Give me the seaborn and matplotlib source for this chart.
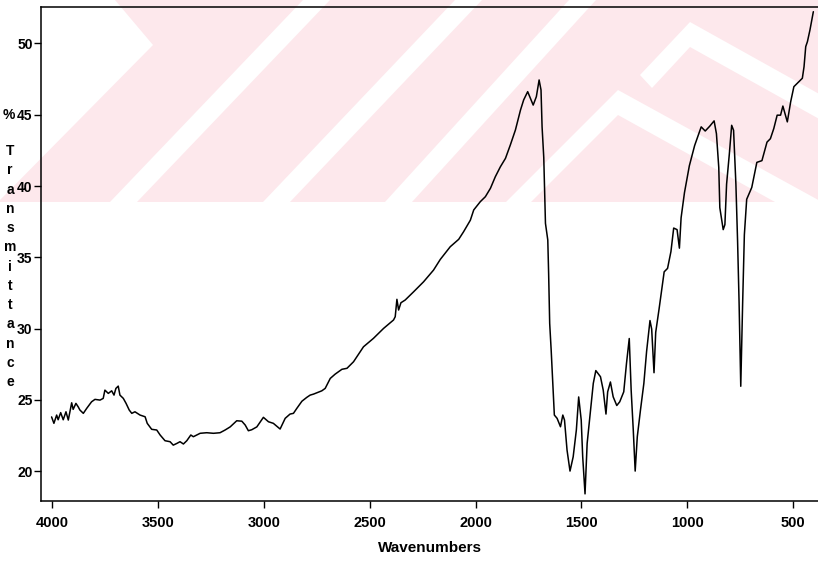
import numpy as np
import pandas as pd
import matplotlib
matplotlib.use("Agg")
import matplotlib.pyplot as plt
from matplotlib.patches import Polygon, Rectangle
import seaborn as sns

# ── data ──
wavenumber = [
    4004, 3993, 3980, 3973, 3961, 3949, 3936, 3925, 3909, 3902, 3889, 3878, 3870, 3854,
    3838, 3815, 3799, 3775, 3760, 3752, 3736, 3720, 3709, 3700, 3689, 3681, 3665, 3652,
    3637, 3625, 3610, 3586, 3562, 3552, 3531, 3507, 3491, 3468, 3444, 3429, 3412, 3397,
    3381, 3365, 3346, 3334, 3302, 3271, 3239, 3208, 3184, 3160, 3129, 3105, 3089, 3074,
    3058, 3034, 3003, 2979, 2956, 2924, 2900, 2877, 2861, 2845, 2821, 2798, 2782, 2766,
    2727, 2711, 2687, 2664, 2632, 2608, 2577, 2530, 2483, 2435, 2388, 2380, 2372, 2364,
    2353, 2333, 2293, 2246, 2199, 2167, 2120, 2080, 2057, 2025, 2009, 1978, 1954, 1930,
    1907, 1883, 1859, 1836, 1812, 1788, 1773, 1754, 1741, 1728, 1713, 1700, 1691, 1686,
    1678, 1670, 1659, 1655, 1650, 1643, 1634, 1628, 1615, 1599, 1588, 1580, 1568, 1554,
    1539, 1524, 1513, 1501, 1494, 1483, 1473, 1457, 1444, 1432, 1410, 1397, 1384, 1376,
    1363, 1350, 1333, 1319, 1300, 1287, 1274, 1265, 1255, 1246, 1236, 1221, 1205, 1192,
    1176, 1168, 1157, 1149, 1133, 1109, 1093, 1077, 1064, 1048, 1037, 1029, 1013, 990,
    965, 934, 915, 894, 873, 862, 851, 846, 830, 822, 814, 801, 790, 781,
    770, 762, 755, 747, 738, 730, 719, 695, 671, 647, 623, 607, 591, 575,
    559, 548, 527, 511, 496, 472, 456, 448, 440, 432, 420, 404,
]
transmittance = [
    23.80, 23.35, 23.93, 23.60, 24.10, 23.60, 24.16, 23.58, 24.79, 24.33, 24.75, 24.50, 24.28, 24.05,
    24.40, 24.86, 25.03, 24.98, 25.10, 25.68, 25.45, 25.63, 25.33, 25.80, 25.96, 25.33, 25.10, 24.75,
    24.28, 24.05, 24.16, 23.93, 23.81, 23.35, 22.93, 22.88, 22.53, 22.13, 22.06, 21.82, 21.94, 22.06,
    21.90, 22.13, 22.53, 22.41, 22.65, 22.69, 22.65, 22.69, 22.88, 23.10, 23.53, 23.50, 23.23, 22.83,
    22.90, 23.10, 23.77, 23.46, 23.35, 22.95, 23.70, 24.00, 24.05, 24.40, 24.90, 25.17, 25.33, 25.40,
    25.63, 25.80, 26.50, 26.80, 27.14, 27.21, 27.67, 28.72, 29.31, 30.01, 30.60, 30.83, 32.05, 31.30,
    31.81, 32.00, 32.58, 33.28, 34.10, 34.85, 35.74, 36.26, 36.79, 37.60, 38.32, 38.90, 39.25, 39.84,
    40.65, 41.35, 41.94, 42.88, 43.93, 45.33, 46.04, 46.62, 46.15, 45.68, 46.27, 47.44, 46.74, 44.16,
    42.00, 37.38, 36.21, 33.87, 30.36, 28.49, 25.68, 23.93, 23.70, 23.11, 23.93, 23.58, 21.47, 20.00,
    21.00, 22.88, 25.20, 23.58, 21.00, 18.40, 21.94, 24.28, 26.15, 27.05, 26.62, 25.68, 24.00, 25.56,
    26.25, 25.21, 24.60, 24.86, 25.56, 27.56, 29.30, 25.68, 22.88, 20.00, 22.41, 24.28, 26.15, 28.40,
    30.56, 29.96, 26.90, 29.73, 31.38, 33.98, 34.22, 35.40, 37.05, 36.94, 35.64, 37.77, 39.54, 41.42,
    42.84, 44.15, 43.86, 44.19, 44.57, 43.67, 41.31, 38.48, 36.94, 37.29, 40.13, 42.25, 44.26, 43.91,
    40.13, 36.11, 31.86, 25.95, 31.86, 36.58, 39.07, 39.90, 41.66, 41.78, 43.08, 43.32, 44.03, 44.97,
    44.97, 45.61, 44.50, 45.92, 46.97, 47.32, 47.56, 48.37, 49.78, 50.13, 50.95, 52.23,
]
x_ticks = [4000, 3500, 3000, 2500, 2000, 1500, 1000, 500]
y_ticks = [20, 25, 30, 35, 40, 45, 50]
x_title = "Wavenumbers"
y_title = "Transmittance"

W, H = 818, 562

sns.set_theme(style="white")
plt.rcParams["font.family"] = ["Liberation Sans", "DejaVu Sans"]
plt.rcParams["text.color"] = "black"

fig = plt.figure(figsize=(W / 100, H / 100), dpi=100)


def fig_pts(pts):
    # pixel coords (origin top-left) -> figure fraction
    return [(x / W, 1 - y / H) for x, y in pts]


# ── pale watermark in the scan background ──
pink = "#fde8ec"
fig.add_artist(Rectangle((0, 1 - 202 / H), 1, 202 / H, transform=fig.transFigure,
                         facecolor=pink, edgecolor="none", zorder=-3))
white_shapes = [
    [(0, 0), (115, 0), (153, 45), (0, 200)],
    [(110, 202), (137, 202), (330, 0), (303, 0)],
    [(263, 202), (290, 202), (482, 0), (455, 0)],
    [(385, 202), (412, 202), (596, 0), (569, 0)],
    [(506, 202), (618, 90), (822, 202), (775, 202), (618, 115), (531, 202)],
    [(640, 75), (690, 22), (830, 100), (830, 125), (690, 47), (652, 88)],
]
for shp in white_shapes:
    fig.add_artist(Polygon(fig_pts(shp), closed=True, transform=fig.transFigure,
                           facecolor="white", edgecolor="none", zorder=-2))

# ── axes ──
ax = fig.add_axes([41 / W, 1 - 501 / H, (W - 41) / W, (501 - 7) / H])
ax.patch.set_alpha(0)

df = pd.DataFrame({"wn": wavenumber, "T": transmittance})
sns.lineplot(data=df, x="wn", y="T", ax=ax, color="black", linewidth=1.1,
             sort=False, estimator=None)

ax.set_xlim(4054, 382)
ax.set_ylim(17.9, 52.56)
ax.set_xticks(x_ticks)
ax.set_yticks(y_ticks)
ax.set_xlabel("")
ax.set_ylabel("")

for side in ["left", "bottom", "top"]:
    ax.spines[side].set_color("black")
    ax.spines[side].set_linewidth(1.1)
ax.spines["right"].set_visible(False)

ax.tick_params(axis="both", direction="out", length=5, width=1, color="black",
               labelsize=10.5, labelcolor="black", left=True, bottom=True)
ax.tick_params(axis="y", pad=1, labelsize=10)
ax.tick_params(axis="x", pad=6)
for lab in ax.get_xticklabels() + ax.get_yticklabels():
    lab.set_fontweight("bold")

# x title
fig.text(430 / W, 1 - 548 / H, x_title, ha="center", va="center",
         fontsize=11, fontweight="bold")

# stacked y title, the scan draws it letter by letter
fig.text(9 / W, 1 - 115 / H, "%", ha="center", va="center", fontsize=10, fontweight="bold")
step = (382 - 151) / (len(y_title) - 1)
for i, ch in enumerate(y_title):
    fig.text(10 / W, 1 - (151 + i * step) / H, ch, ha="center", va="center",
             fontsize=10, fontweight="bold")

fig.savefig("out.png", dpi=100, facecolor="white")
